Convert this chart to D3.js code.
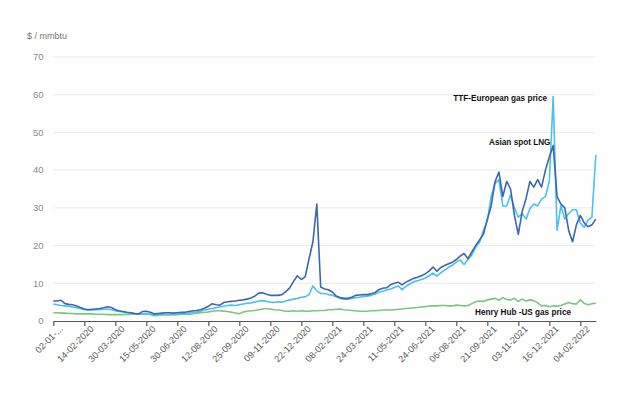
<!DOCTYPE html>
<html>
<head>
<meta charset="utf-8">
<script src="https://cdn.jsdelivr.net/npm/d3@7"></script>
<style>
  html, body { margin: 0; padding: 0; background: #fff; }
  svg { display: block; }
  text { font-family: "Liberation Sans", Arial, Helvetica, sans-serif; }
</style>
</head>
<body>
<div id="chart"></div>
<script>
// ---- data ----
const tickLabels = ["02-01-...", "14-02-2020", "30-03-2020", "15-05-2020", "30-06-2020", "12-08-2020",
  "25-09-2020", "09-11-2020", "22-12-2020", "08-02-2021", "24-03-2021", "11-05-2021",
  "24-06-2021", "06-08-2021", "21-09-2021", "03-11-2021", "16-12-2021", "04-02-2022"];
const samplesPerTick = 8; // samples of each series between two labelled dates

const asianLNG = [
  5.3, 5.3, 5.5, 4.6, 4.4, 4.3, 4.0, 3.6, 3.2, 3.0,
  3.1, 3.2, 3.3, 3.5, 3.8, 3.6, 3.0, 2.7, 2.5, 2.3,
  2.2, 2.0, 1.9, 2.5, 2.6, 2.3, 1.9, 2.0, 2.1, 2.2,
  2.2, 2.1, 2.2, 2.3, 2.3, 2.5, 2.7, 2.8, 3.0, 3.4,
  3.9, 4.6, 4.3, 4.2, 4.9, 5.1, 5.2, 5.3, 5.5, 5.6,
  5.8, 6.1, 6.6, 7.4, 7.5, 7.1, 6.8, 6.8, 6.8, 7.0,
  7.8, 8.8, 10.5, 12.0, 11.0, 11.7, 16.5, 21.0, 31.0, 9.0,
  8.5, 8.3, 7.7, 6.6, 6.2, 6.0, 6.0, 6.3, 6.8, 6.9,
  7.0, 7.0, 7.2, 7.5, 8.3, 8.7, 8.8, 9.6, 10.0, 10.3,
  9.6, 10.3, 10.8, 11.3, 11.6, 12.0, 12.5, 13.3, 14.3, 13.2,
  14.2, 14.7, 15.2, 15.6, 16.3, 17.2, 17.9, 16.5, 18.3, 20.0,
  21.5, 23.0, 27.0, 30.5, 37.0, 39.5, 33.0, 37.0, 35.0, 28.0,
  23.0, 29.0, 32.5, 37.0, 35.5, 37.5, 35.5, 40.0, 43.5, 46.5,
  33.0, 31.0, 30.0, 24.0, 21.0, 25.5, 28.0, 26.0, 25.0, 25.5,
  27.0
];
const ttfEurope = [
  4.5, 4.3, 4.1, 4.0, 3.9, 3.7, 3.5, 3.3, 3.0, 2.9,
  2.9, 3.0, 3.0, 3.1, 3.2, 3.0, 2.7, 2.5, 2.4, 2.2,
  2.1, 2.0, 1.8, 1.9, 1.9, 1.7, 1.4, 1.5, 1.7, 1.8,
  1.8, 1.7, 1.8, 1.9, 2.0, 2.1, 2.3, 2.4, 2.6, 2.9,
  3.1, 3.3, 3.5, 3.7, 3.9, 4.1, 4.2, 4.1, 4.3, 4.5,
  4.7, 4.8, 5.0, 5.3, 5.4, 5.2, 5.0, 4.9, 5.1, 5.0,
  5.3, 5.6, 5.8, 6.0, 6.3, 6.4, 7.0, 9.3, 8.0, 7.3,
  7.3, 7.0, 6.8, 6.4, 6.0, 5.8, 5.8, 6.0, 6.2, 6.3,
  6.5, 6.6, 6.8, 7.1, 7.6, 7.9, 8.2, 8.5, 8.9, 9.3,
  8.3, 9.2, 9.8, 10.4, 10.7, 11.0, 11.4, 12.0, 12.7, 11.9,
  12.8, 13.5, 14.2, 14.8, 15.6, 16.2, 15.0, 16.3, 17.5, 19.6,
  20.8, 24.0, 26.5, 33.0, 36.5, 37.5, 30.5, 30.5, 33.5, 30.0,
  27.5, 28.5, 27.0, 29.8, 31.0, 30.5, 32.3, 33.0, 37.0, 59.5,
  24.0, 30.5, 27.0, 28.5, 29.5, 29.5, 26.0, 24.8, 26.8, 27.5,
  44.0
];
const henryHub = [
  2.2, 2.2, 2.1, 2.1, 2.0, 2.0, 1.9, 1.9, 1.9, 1.9,
  1.9, 1.8, 1.8, 1.8, 1.7, 1.7, 1.7, 1.7, 1.7, 1.8,
  1.8, 1.8, 1.8, 1.8, 1.8, 1.8, 1.8, 1.7, 1.7, 1.6,
  1.6, 1.7, 1.7, 1.8, 1.8, 1.8, 1.9, 2.1, 2.2, 2.3,
  2.4, 2.6, 2.7, 2.7, 2.6, 2.5, 2.3, 2.1, 1.9, 2.4,
  2.6, 2.7, 2.8, 3.0, 3.2, 3.3, 3.2, 3.0, 2.9, 2.8,
  2.6, 2.6, 2.7, 2.6, 2.7, 2.6, 2.6, 2.7, 2.7, 2.8,
  2.8, 3.0, 3.0, 3.1, 3.2, 3.0, 2.9, 2.8, 2.7, 2.6,
  2.6, 2.6, 2.7, 2.7, 2.8, 2.9, 2.9, 2.9, 3.0, 3.1,
  3.2, 3.3, 3.4, 3.5, 3.6, 3.7, 3.8, 4.0, 4.0, 4.0,
  4.1, 4.1, 4.0, 4.0, 4.2, 4.1, 4.0, 4.1, 4.6, 5.1,
  5.3, 5.2, 5.6, 5.8, 6.0, 5.5, 6.2, 5.7, 5.6, 6.0,
  5.2, 5.8, 5.3, 5.6, 5.4, 4.8, 4.0, 4.1, 3.8, 4.0,
  3.9, 4.1, 4.5, 4.9, 4.6, 4.5, 5.6, 4.7, 4.3, 4.6,
  4.7
];
const yTicks = [0, 10, 20, 30, 40, 50, 60, 70];
const unitLabel = "$ / mmbtu";
const seriesNames = ["TTF-European gas price", "Asian spot LNG", "Henry Hub -US gas price"];

// ---- chart ----
const W = 640, H = 399;
const plotLeft = 53.3, plotRight = 595.8, plotTop = 57, plotBottom = 321;

const svg = d3.select("#chart").append("svg").attr("width", W).attr("height", H);

const n = asianLNG.length;
const x = d3.scaleLinear().domain([0, n - 1]).range([plotLeft, plotRight]);
const y = d3.scaleLinear().domain([0, 70]).range([plotBottom, plotTop]);

// gridlines
svg.append("g").selectAll("line").data(yTicks.filter(d => d > 0)).join("line")
  .attr("x1", plotLeft).attr("x2", plotRight - 1)
  .attr("y1", d => y(d)).attr("y2", d => y(d))
  .attr("stroke", "#ebebeb").attr("stroke-width", 1);

// y labels
svg.append("g").selectAll("text").data(yTicks).join("text")
  .attr("x", 43.5).attr("y", d => y(d)).attr("dy", "0.35em")
  .attr("text-anchor", "end").attr("font-size", 9.5).attr("fill", "#8a8a8a")
  .text(d => d);

svg.append("text").attr("x", 27).attr("y", 38.5)
  .attr("font-size", 9).attr("fill", "#777").text(unitLabel);

// x axis
const tickIdx = tickLabels.map((_, i) => i * samplesPerTick);
const xAxis = d3.axisBottom(x).tickValues(tickIdx).tickSize(5).tickSizeOuter(0)
  .tickFormat((d, i) => tickLabels[i]);
const gx = svg.append("g").attr("transform", `translate(0,${plotBottom})`).call(xAxis);
gx.select(".domain").attr("stroke", "#555").attr("stroke-width", 1.2);
gx.selectAll(".tick line").attr("stroke", "#555").attr("stroke-width", 1.2);
gx.selectAll(".tick text")
  .attr("font-family", "'Liberation Sans', Arial, sans-serif")
  .attr("font-size", 9.2).attr("fill", "#5a5a5a")
  .attr("text-anchor", "end")
  .attr("transform", "translate(3,2) rotate(-45)")
  .attr("dy", "0.35em").attr("y", 6).attr("x", 0);

// lines
const line = d3.line().x((d, i) => x(i)).y(d => y(d));
const series = [
  { values: henryHub, color: "#7cc57c" },
  { values: ttfEurope, color: "#4cc0ee" },
  { values: asianLNG, color: "#3a67b4" }
];
svg.append("g").selectAll("path").data(series).join("path")
  .attr("d", d => line(d.values))
  .attr("fill", "none").attr("stroke", d => d.color)
  .attr("stroke-width", 1.6).attr("stroke-linejoin", "round");

// annotations
const ann = [
  { text: seriesNames[0], x: 547, y: 98.5 },
  { text: seriesNames[1], x: 550.5, y: 142 },
  { text: seriesNames[2], x: 571, y: 312.5 }
];
svg.append("g").selectAll("text").data(ann).join("text")
  .attr("x", d => d.x).attr("y", d => d.y).attr("dy", "0.35em")
  .attr("text-anchor", "end").attr("font-size", 8.2).attr("font-weight", "bold")
  .attr("fill", "#111").text(d => d.text);
</script>
</body>
</html>
